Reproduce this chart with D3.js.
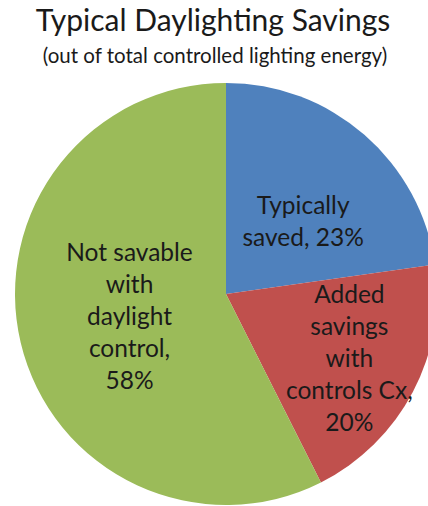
<!DOCTYPE html>
<html>
<head>
<meta charset="utf-8">
<script src="https://cdn.jsdelivr.net/npm/d3@7"></script>
<style>
  body { margin: 0; background: #fff; }
  svg { display: block; font-family: Lato, "Open Sans", sans-serif; }
</style>
</head>
<body>
<script>
// slice data, in drawing order (clockwise from 12 o'clock)
var categories = ["Typically saved", "Added savings with controls Cx", "Not savable with daylight control"];
var values = [23, 20, 58];
var labelLines = [
  ["Typically", "saved, 23%"],
  ["Added", "savings", "with", "controls Cx,", "20%"],
  ["Not savable", "with", "daylight", "control,", "58%"]
];
var colors = ["#4f81bd", "#c0504d", "#9bbb59"];

var width = 428, height = 506;
var svg = d3.select("body").append("svg").attr("width", width).attr("height", height);

// titel
svg.append("text")
  .attr("x", 213).attr("y", 31)
  .attr("text-anchor", "middle")
  .attr("font-size", 30)
  .attr("fill", "#1a1a1a")
  .text("Typical Daylighting Savings");
svg.append("text")
  .attr("x", 215).attr("y", 63)
  .attr("text-anchor", "middle")
  .attr("font-size", 20.5)
  .attr("fill", "#1a1a1a")
  .text("(out of total controlled lighting energy)");

var cx = 226, cy = 294, r = 211;
var g = svg.append("g").attr("transform", "translate(" + cx + "," + cy + ")");

var pie = d3.pie().sort(null).value(function(d) { return d; });
var arcs = pie(values);
var arc = d3.arc().innerRadius(0).outerRadius(r);

g.selectAll("path.slice").data(arcs)
  .enter().append("path")
  .attr("class", "slice")
  .attr("d", arc)
  .attr("fill", function(d, i) { return colors[i]; });

// etiketter - excel "best fit" ungefär, röda skjuts längre ut
var labelK = [0.5, 0.66, 0.47];
var nudge = [[8, 7], [0, 0], [0, 0]];
var lineH = 32, capH = 17;
arcs.forEach(function(d, i) {
  var la = d3.arc().innerRadius(r * labelK[i]).outerRadius(r * labelK[i]);
  var c = la.centroid(d);
  c = [c[0] + nudge[i][0], c[1] + nudge[i][1]];
  var lines = labelLines[i];
  var y0 = c[1] - (lines.length - 1) * lineH / 2 + capH / 2;
  var t = g.append("text")
    .attr("text-anchor", "middle")
    .attr("font-size", 24.5)
    .attr("fill", "#1a1a1a");
  lines.forEach(function(s, j) {
    t.append("tspan").attr("x", c[0]).attr("y", y0 + j * lineH).text(s);
  });
});
</script>
</body>
</html>
